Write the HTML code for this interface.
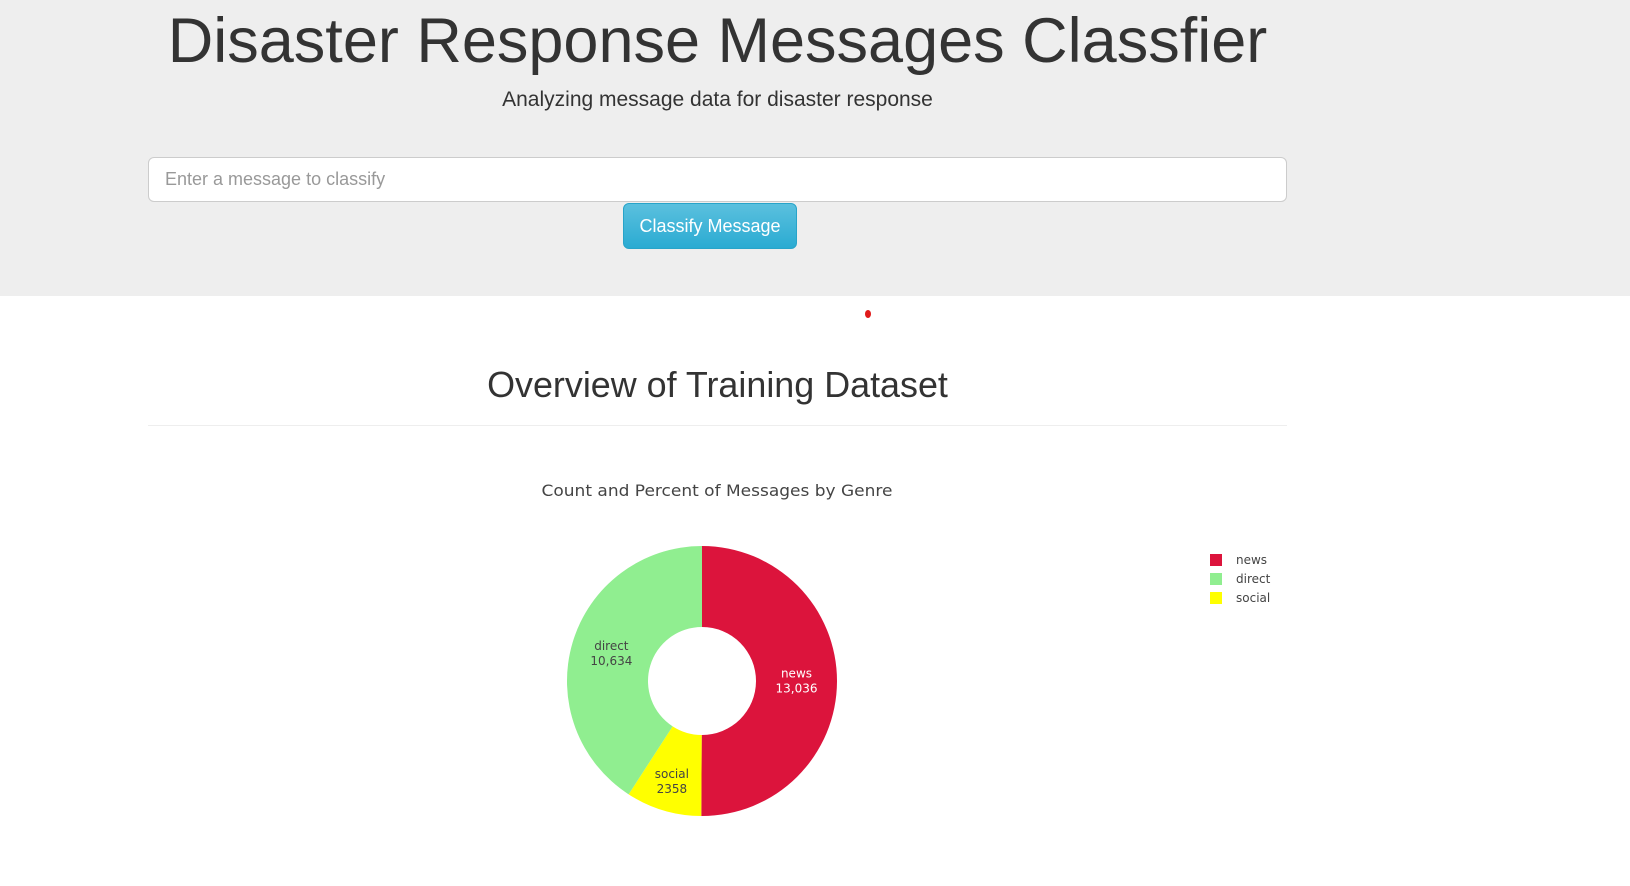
<!DOCTYPE html>
<html><head><meta charset="utf-8">
<style>
html,body{margin:0;padding:0;width:1630px;height:886px;overflow:hidden;background:#fff;font-family:"Liberation Sans",Arial,sans-serif;color:#333}
.jumbo{position:absolute;left:0;top:0;width:1630px;height:296px;background:#eee}
.abs{position:absolute}
</style></head><body>
<div class="jumbo"></div>
<div class="abs" style="left:148px;width:1139px;top:3px;text-align:center;font-size:63px;line-height:76px;color:#333">Disaster Response Messages Classfier</div>
<div class="abs" style="left:148px;width:1139px;top:86px;text-align:center;font-size:21px;line-height:28px;color:#333">Analyzing message data for disaster response</div>
<div class="abs" style="left:148px;top:157px;background:#fff;border:1px solid #ccc;border-radius:6px;box-sizing:border-box;width:1139px;height:45px;font-size:18px;color:#999;line-height:43px;padding-left:16px">Enter a message to classify</div>
<div class="abs" style="left:623px;top:203px;width:174px;height:46px;box-sizing:border-box;border:1px solid #28a4c9;border-radius:6px;background:linear-gradient(#5bc0de,#2aabd2);color:#fff;font-size:18px;line-height:44px;text-align:center">Classify Message</div>
<div class="abs" style="left:865px;top:310px;width:6px;height:8px;border-radius:50%;background:#e01a1a"></div>
<div class="abs" style="left:148px;width:1139px;top:363px;text-align:center;font-size:35.9px;line-height:44px;color:#333">Overview of Training Dataset</div>
<div class="abs" style="left:148px;width:1139px;top:425px;height:1px;background:#eee"></div>
<svg class="abs" style="left:0;top:0" width="1630" height="886">
<text x="717" y="496" text-anchor="middle" font-family="DejaVu Sans,Verdana,sans-serif" font-size="16" fill="#444" textLength="351" lengthAdjust="spacingAndGlyphs">Count and Percent of Messages by Genre</text>
<g id="pie"></g>
<g id="legend"></g>
</svg>
<script>
const genres=["news","direct","social"];
const counts=[13036,10634,2358];
const labels=["13,036","10,634","2358"];
const colors=["#dc143c","#90ee90","#ffff00"];
const textColors=["#fff","#444","#444"];
const drawOrder=[0,2,1];
const cx=702,cy=681,R=135,r0=54;
const NS="http://www.w3.org/2000/svg";
const pie=document.getElementById('pie'),leg=document.getElementById('legend');
const total=counts.reduce((a,b)=>a+b,0);
function pt(a,rad){return [cx+rad*Math.sin(a),cy-rad*Math.cos(a)];}
let a0=0;
drawOrder.forEach(i=>{
  const v=counts[i];
  const a1=a0+v/total*2*Math.PI;
  const big=(a1-a0)>Math.PI?1:0;
  const [x0,y0]=pt(a0,R),[x1,y1]=pt(a1,R),[x2,y2]=pt(a1,r0),[x3,y3]=pt(a0,r0);
  const p=document.createElementNS(NS,'path');
  p.setAttribute('d',`M${x0},${y0}A${R},${R} 0 ${big} 1 ${x1},${y1}L${x2},${y2}A${r0},${r0} 0 ${big} 0 ${x3},${y3}Z`);
  p.setAttribute('fill',colors[i]);
  
  
  pie.appendChild(p);
  const am=(a0+a1)/2;
  const rr=(v/total<0.15)?(R+r0)/2+11:(R+r0)/2;
  const [lx,ly]=pt(am,rr);
  const t=document.createElementNS(NS,'text');
  t.setAttribute('x',lx);t.setAttribute('y',ly-4);
  t.setAttribute('text-anchor','middle');
  t.setAttribute('font-family','DejaVu Sans,Verdana,sans-serif');
  t.setAttribute('font-size','12');
  t.setAttribute('fill',textColors[i]);
  
  
  const s1=document.createElementNS(NS,'tspan');s1.setAttribute('x',lx);s1.textContent=genres[i];
  const s2=document.createElementNS(NS,'tspan');s2.setAttribute('x',lx);s2.setAttribute('dy','15');s2.textContent=labels[i];
  t.appendChild(s1);t.appendChild(s2);pie.appendChild(t);
  a0=a1;
});
genres.forEach((g,i)=>{
  const y=560+i*19;
  const r=document.createElementNS(NS,'rect');
  r.setAttribute('x',1210);r.setAttribute('y',y-6);r.setAttribute('width',12);r.setAttribute('height',12);
  r.setAttribute('fill',colors[i]);
  
  
  leg.appendChild(r);
  const t=document.createElementNS(NS,'text');
  t.setAttribute('x',1236);t.setAttribute('y',y+4);
  t.setAttribute('font-family','DejaVu Sans,Verdana,sans-serif');
  t.setAttribute('font-size','12');t.setAttribute('fill','#444');
  
  
  t.textContent=g;leg.appendChild(t);
});
</script>
</body></html>
